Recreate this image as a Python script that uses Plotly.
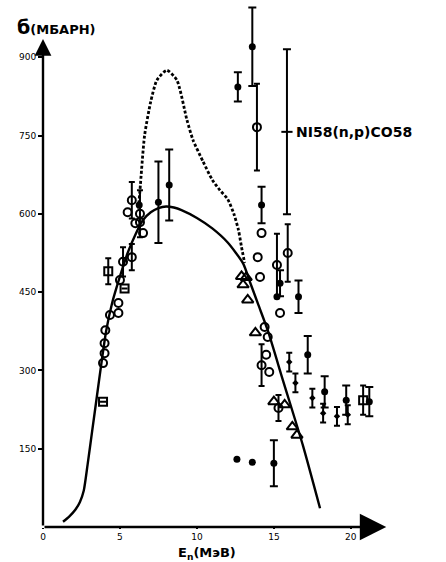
import plotly.graph_objects as go

# Ni58(n,p)Co58 cross section, energies in MeV, cross sections in mb

# solid evaluated curve
curve_e = [1.3, 1.7, 2.1, 2.4, 2.65, 2.9, 3.2, 3.5, 3.8, 4.1, 4.5, 5.0, 5.5, 6.0, 6.5, 7.0,
           7.5, 8.0, 8.5, 9.0, 10.0, 11.0, 12.0, 13.0, 13.5, 14.0, 14.6, 15.6, 16.9, 18.0]
curve_s = [10, 20, 33, 48, 70, 120, 185, 250, 315, 375, 430, 480, 525, 560, 588, 603,
           611, 614, 612, 607, 592, 572, 545, 505, 465, 425, 377, 280, 155, 36]

# dashed alternative curve
dash_e = [6.2, 6.3, 6.6, 7.0, 7.4, 8.05, 8.7, 9.35, 9.75, 10.4, 11.0, 11.5, 12.0, 12.4, 12.7, 12.9, 13.1]
dash_s = [610, 645, 750, 815, 856, 875, 856, 780, 741, 700, 665, 645, 628, 600, 569, 536, 506]

# open circles without error bars
oc_e = [3.9, 4.0, 4.0, 4.05, 4.35, 4.9, 4.9, 5.0, 5.5, 6.0, 6.3, 6.5,
        14.2, 13.95, 14.1, 14.4, 14.6, 14.5, 14.7, 15.4]
oc_s = [314, 333, 352, 377, 406, 410, 429, 473, 603, 582, 584, 563,
        563, 517, 479, 383, 364, 330, 297, 410]

# open circles with error bars
oce_e = [5.2, 5.77, 5.77, 6.3, 13.9, 15.2, 15.9, 14.2, 15.3]
oce_s = [508, 517, 626, 600, 766, 502, 525, 310, 228]
oce_d = [28, 25, 35, 45, 83, 60, 55, 40, 25]

# open squares
sq_e = [4.24, 5.3, 3.9, 20.8]
sq_s = [490, 457, 240, 243]
sq_d = [25, 0, 0, 28]

# open triangles
tr_e = [12.9, 13.2, 13.0, 13.3, 13.8, 15.0, 15.7, 16.2, 16.5]
tr_s = [480, 478, 464, 435, 372, 240, 234, 192, 176]

# filled circles with error bars
fc_e = [7.5, 8.2, 12.66, 13.6, 14.2, 15.0, 16.6, 17.2, 18.3, 19.7, 21.2, 15.4]
fc_s = [622, 655, 843, 920, 617, 122, 441, 330, 259, 243, 240, 467]
fc_d = [78, 68, 28, 75, 35, 44, 31, 36, 30, 28, 28, 25]

# filled circles without error bars
fp_e = [6.25, 12.6, 13.6, 15.2]
fp_s = [617, 130, 124, 441]

# small filled points with short error bars
sm_e = [16.0, 16.4, 17.5, 18.2, 19.1, 19.8]
sm_s = [316, 276, 247, 218, 212, 215]
sm_d = [18, 18, 18, 18, 18, 18]

# long error bar with a plain tick
lb_e = [15.85]
lb_s = [757]
lb_d = [158]

x_ticks = [0, 5, 10, 15, 20]
y_ticks = [150, 300, 450, 600, 750, 900]

FONT = "DejaVu Sans"
INK = "black"


def err(vals, width=3):
    return dict(type="data", array=vals, visible=True, thickness=2, width=width, color=INK)


def open_marker(symbol, size):
    return dict(symbol=symbol, size=size, color=INK, line=dict(width=2, color=INK))


fig = go.Figure()

fig.add_trace(go.Scatter(x=curve_e, y=curve_s, mode="lines",
                         line=dict(color=INK, width=2.4, shape="spline", smoothing=0.6)))
fig.add_trace(go.Scatter(x=dash_e, y=dash_s, mode="lines",
                         line=dict(color=INK, width=2.8, dash="3px,2px", shape="spline", smoothing=0.6)))

fig.add_trace(go.Scatter(x=lb_e, y=lb_s, mode="markers", error_y=err(lb_d, 4),
                         marker=open_marker("line-ew", 8)))
fig.add_trace(go.Scatter(x=oce_e, y=oce_s, mode="markers", error_y=err(oce_d),
                         marker=open_marker("circle-open", 8)))
fig.add_trace(go.Scatter(x=oc_e, y=oc_s, mode="markers",
                         marker=open_marker("circle-open", 8)))
fig.add_trace(go.Scatter(x=sq_e, y=sq_s, mode="markers", error_y=err(sq_d),
                         marker=open_marker("square-open", 8)))
fig.add_trace(go.Scatter(x=tr_e, y=tr_s, mode="markers",
                         marker=open_marker("triangle-up-open", 10)))
fig.add_trace(go.Scatter(x=fc_e, y=fc_s, mode="markers", error_y=err(fc_d, 4),
                         marker=dict(symbol="circle", size=7, color=INK)))
fig.add_trace(go.Scatter(x=fp_e, y=fp_s, mode="markers",
                         marker=dict(symbol="circle", size=7, color=INK)))
fig.add_trace(go.Scatter(x=sm_e, y=sm_s, mode="markers", error_y=err(sm_d),
                         marker=dict(symbol="diamond", size=5, color=INK)))

# axes drawn as arrows from the origin
fig.add_annotation(x=22.3, y=0, ax=0, ay=0, xref="x", yref="y", axref="x", ayref="y",
                   text="", showarrow=True, arrowhead=2, arrowsize=2.2, arrowwidth=2.4, arrowcolor=INK)
fig.add_annotation(x=0, y=935, ax=0, ay=0, xref="x", yref="y", axref="x", ayref="y",
                   text="", showarrow=True, arrowhead=2, arrowsize=1.4, arrowwidth=2.4, arrowcolor=INK)

fig.add_annotation(x=-0.079, y=0.958, xref="paper", yref="paper", xanchor="left", yanchor="middle",
                   text="<b><span style='font-size:19px'>б</span>(МБАРН)</b>", showarrow=False,
                   font=dict(family=FONT, size=13, color=INK))
fig.add_annotation(x=16.3, y=757, xref="x", yref="y", xanchor="left", yanchor="middle",
                   text="<b>NI58(n,p)CO58</b>", showarrow=False,
                   font=dict(family=FONT, size=14, color=INK))
fig.add_annotation(x=10.65, y=-0.051, xref="x", yref="paper", xanchor="center", yanchor="middle",
                   text="<b>E<sub>n</sub>(МэВ)</b>", showarrow=False,
                   font=dict(family=FONT, size=13, color=INK))

fig.update_layout(
    width=446, height=562,
    margin=dict(l=43, r=49, t=5, b=35),
    paper_bgcolor="white", plot_bgcolor="white",
    showlegend=False,
    font=dict(family=FONT, color=INK),
)
fig.update_xaxes(range=[0, 23], tickvals=x_ticks, ticktext=[str(v) for v in x_ticks],
                 showgrid=False, zeroline=False, showline=False,
                 ticks="outside", ticklen=1, tickwidth=2, tickcolor=INK,
                 tickfont=dict(family=FONT, size=9, color=INK))
fig.update_yaxes(range=[0, 1000], tickvals=y_ticks, ticktext=[str(v) for v in y_ticks],
                 showgrid=False, zeroline=False, showline=False,
                 ticks="outside", ticklen=4, tickwidth=2, tickcolor=INK,
                 tickfont=dict(family=FONT, size=9, color=INK))

fig.write_html("out.html")
